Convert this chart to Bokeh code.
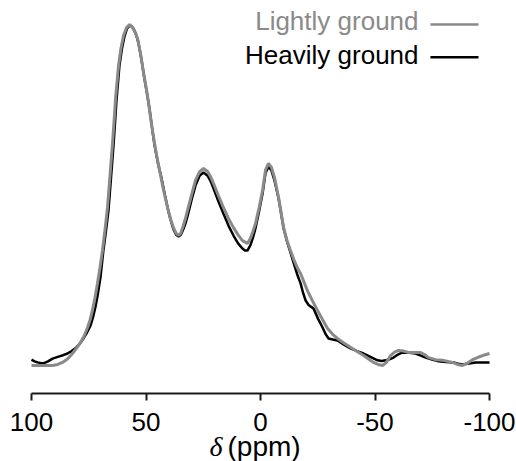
from bokeh.plotting import figure
from bokeh.models import Range1d, Label, BoxAnnotation, FixedTicker, LinearAxis
from bokeh.embed import file_html
from bokeh.resources import INLINE

# Chemical shift (ppm) and normalised intensity, lightly ground sample
light_ppm = [100.0, 95.2, 90.8, 88.5, 86.5, 84.3, 82.1, 80.4, 78.6, 77.0,
             75.5, 74.4, 73.4, 72.3, 71.2, 70.1, 69.0, 67.9, 66.8, 65.7,
             64.6, 63.9, 63.3, 62.6, 62.0, 60.9, 59.8, 58.5, 57.2, 55.9,
             54.8, 53.7, 52.4, 51.1, 50.0, 48.9, 47.8, 46.7, 45.2, 43.7,
             42.2, 40.6, 39.3, 38.0, 36.9, 35.8, 34.8, 33.8, 32.8, 31.9,
             30.1, 28.4, 26.6, 24.9, 23.1, 21.8, 20.5, 18.4, 16.2, 14.0,
             11.8, 9.8, 7.9, 5.7, 4.4, 3.3, 2.2, 0.6, -0.9, -2.2,
             -3.5, -4.8, -6.1, -7.9, -10.1, -11.6, -13.1, -14.6, -16.2, -17.5,
             -20.5, -22.7, -24.9, -27.1, -29.3, -31.4, -33.6, -36.4, -39.3, -42.2,
             -45.0, -47.2, -49.3, -51.4, -53.3, -55.0, -56.8, -58.5, -60.3, -62.5,
             -64.6, -67.2, -69.9, -71.6, -73.4, -76.4, -79.5, -83.8, -86.0, -88.2,
             -90.4, -92.6, -95.0, -97.0, -100.0]
light_int = [0.003, 0.003, 0.003, 0.006, 0.012, 0.022, 0.038, 0.053, 0.070, 0.090,
             0.114, 0.137, 0.164, 0.200, 0.243, 0.289, 0.340, 0.400, 0.466, 0.560,
             0.655, 0.722, 0.784, 0.835, 0.880, 0.932, 0.968, 0.991, 1.000, 0.991,
             0.978, 0.959, 0.915, 0.860, 0.818, 0.772, 0.718, 0.670, 0.612, 0.561,
             0.511, 0.465, 0.432, 0.406, 0.390, 0.383, 0.390, 0.410, 0.432, 0.456,
             0.502, 0.544, 0.570, 0.579, 0.570, 0.555, 0.535, 0.500, 0.465, 0.433,
             0.406, 0.385, 0.368, 0.360, 0.375, 0.395, 0.418, 0.465, 0.515, 0.575,
             0.594, 0.582, 0.553, 0.494, 0.406, 0.368, 0.339, 0.312, 0.287, 0.272,
             0.222, 0.192, 0.164, 0.137, 0.111, 0.095, 0.082, 0.069, 0.056, 0.044,
             0.032, 0.022, 0.012, 0.006, 0.003, 0.012, 0.032, 0.042, 0.047, 0.045,
             0.041, 0.041, 0.041, 0.035, 0.026, 0.020, 0.018, 0.012, 0.006, 0.003,
             0.010, 0.020, 0.027, 0.032, 0.038]

# Heavily ground sample
heavy_ppm = [100.0, 98.7, 97.4, 96.1, 94.8, 92.8, 90.8, 88.2, 86.2, 84.3,
             82.5, 80.8, 79.0, 77.3, 75.7, 74.2, 73.1, 72.1, 71.0, 69.9,
             68.6, 67.5, 66.4, 65.3, 64.2, 63.5, 62.9, 62.2, 61.6, 60.5,
             59.4, 58.3, 57.2, 56.3, 55.5, 54.4, 53.3, 52.0, 50.7, 49.6,
             48.5, 47.4, 46.3, 44.8, 43.2, 41.7, 40.2, 39.1, 38.0, 36.9,
             35.8, 34.8, 33.8, 32.8, 31.9, 30.1, 28.4, 26.6, 24.9, 23.1,
             21.8, 20.5, 18.4, 16.2, 14.0, 11.8, 9.8, 7.9, 6.8, 5.7,
             4.4, 3.3, 2.2, 0.6, -0.9, -2.2, -3.5, -4.8, -6.1, -7.9,
             -10.1, -11.6, -13.1, -14.6, -16.2, -17.5, -18.6, -19.7, -21.0, -22.0,
             -23.1, -25.1, -27.1, -28.4, -29.7, -31.6, -33.6, -36.4, -39.3, -42.2,
             -45.0, -48.0, -51.1, -52.9, -54.6, -56.3, -58.1, -60.0, -62.0, -64.9,
             -67.7, -70.0, -72.1, -74.9, -77.7, -81.0, -84.3, -86.3, -88.2, -91.0,
             -93.9, -97.0, -100.0]
heavy_int = [0.020, 0.015, 0.012, 0.010, 0.009, 0.015, 0.023, 0.029, 0.033, 0.038,
             0.045, 0.053, 0.066, 0.082, 0.100, 0.120, 0.145, 0.173, 0.213, 0.260,
             0.340, 0.395, 0.456, 0.550, 0.646, 0.715, 0.778, 0.832, 0.880, 0.930,
             0.965, 0.988, 0.997, 0.995, 0.988, 0.972, 0.947, 0.898, 0.842, 0.800,
             0.754, 0.700, 0.648, 0.595, 0.550, 0.500, 0.453, 0.425, 0.401, 0.386,
             0.380, 0.385, 0.400, 0.418, 0.439, 0.487, 0.529, 0.558, 0.567, 0.558,
             0.542, 0.520, 0.483, 0.447, 0.412, 0.383, 0.360, 0.345, 0.339, 0.339,
             0.355, 0.377, 0.404, 0.455, 0.506, 0.566, 0.585, 0.573, 0.544, 0.491,
             0.404, 0.365, 0.333, 0.300, 0.266, 0.243, 0.215, 0.193, 0.180, 0.175,
             0.170, 0.140, 0.114, 0.095, 0.082, 0.079, 0.076, 0.064, 0.053, 0.045,
             0.038, 0.028, 0.018, 0.016, 0.018, 0.021, 0.026, 0.035, 0.041, 0.040,
             0.038, 0.032, 0.026, 0.020, 0.015, 0.013, 0.012, 0.008, 0.006, 0.009,
             0.012, 0.012, 0.012]

x_ticks = [100, 50, 0, -50, -100]
series_names = ["Lightly ground", "Heavily ground"]
series_colors = ["#8a8a8a", "#000000"]

FONT = "Liberation Sans"

# frame spans the whole canvas; the spectrum axis runs from 100 to -100 ppm
p = figure(width=516, height=461, output_backend="svg", toolbar_location=None,
           x_range=Range1d(113.54, -111.79), y_range=Range1d(-0.2778, 1.0702),
           x_axis_location=None, y_axis_location=None,
           min_border_left=0, min_border_right=0, min_border_top=0, min_border_bottom=0)
p.outline_line_color = None
p.grid.visible = False
p.background_fill_color = "white"
p.border_fill_color = "white"

ax = LinearAxis(fixed_location=-0.0789, bounds=(-100, 100))
ax.ticker = FixedTicker(ticks=x_ticks)
ax.major_label_overrides = {t: str(t) for t in x_ticks}
ax.axis_line_color = "#1a1a1a"
ax.axis_line_width = 2
ax.major_tick_line_color = "#1a1a1a"
ax.major_tick_line_width = 2
ax.major_tick_out = 7
ax.major_tick_in = 0
ax.minor_tick_line_color = None
ax.major_label_text_font = FONT
ax.major_label_text_font_size = "26px"
ax.major_label_text_color = "black"
ax.major_label_standoff = 13
p.add_layout(ax, "below")

p.line(heavy_ppm, heavy_int, line_color=series_colors[1], line_width=2.5)
p.line(light_ppm, light_int, line_color=series_colors[0], line_width=3)

# Legend (text, then a line sample to its right)
leg_y_text = [1.009, 0.912]
leg_y_line = [1.000, 0.904]
for name, col, yt, yl in zip(series_names, series_colors, leg_y_text, leg_y_line):
    p.add_layout(Label(x=-69.0, y=yt, text=name, text_font=FONT, text_font_size="26px",
                       text_align="right", text_baseline="middle", text_color=col))
    p.add_layout(BoxAnnotation(left=-74.2, right=-95.2, bottom=yl - 0.0037, top=yl + 0.0037,
                               fill_color=col, fill_alpha=1, line_color=None))

# Axis title: italic delta + (ppm)
p.add_layout(Label(x=16.6, y=-0.235, text="δ", text_font="Liberation Serif",
                   text_font_style="italic", text_font_size="28px", text_align="right",
                   text_baseline="middle", text_color="black"))
p.add_layout(Label(x=14.4, y=-0.235, text="(ppm)", text_font=FONT,
                   text_font_size="28px", text_align="left", text_baseline="middle",
                   text_color="black"))

open("out.html", "w").write(file_html(p, INLINE))
